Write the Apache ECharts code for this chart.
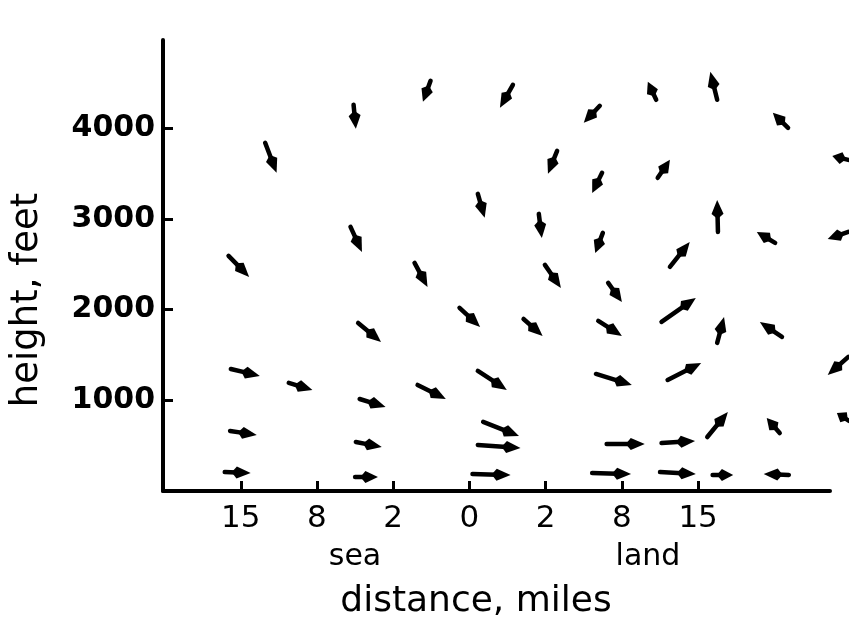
<!DOCTYPE html>
<html>
<head>
<meta charset="utf-8">
<script src="https://cdn.jsdelivr.net/npm/echarts@6/dist/echarts.min.js"></script>
<style>
html,body{margin:0;padding:0;background:#fff;}
#c{width:849px;height:637px;}
</style>
</head>
<body>
<div id="c"></div>
<script>
// x positions are distance-tick indices (0 = "15" sea ... 6 = "15" land); heights in feet
const tickLabels = ['15', '8', '2', '0', '2', '8', '15'];
const heightTicks = [1000, 2000, 3000, 4000];

// tail of each arrow
const tailX = [1.48, 0.32, 1.44, -0.16, 2.49, 3.57, 4.71, 4.15, 4.74, 3.11, 3.91, 4.75, 5.45, 6.25, 7.18, 7.97, 5.47, 6.26, 7.01, 7.97, 5.63, 2.28, 3.99, 4.82, 2.87, 3.71, 4.69, 1.54, 5.52, 6.25, 7.10, -0.13, 0.63, 3.11, 4.66, 5.60, 7.97, 1.56, 2.32, 3.18, 6.12, 7.07, 7.98, -0.14, 1.51, 3.11, 4.80, 5.52, -0.21, 1.50, 3.04, 4.61, 5.50, 6.19, 7.19];
const tailH = [4256, 3837, 2911, 2591, 4520, 4476, 4245, 3749, 3506, 3274, 3054, 2844, 4311, 4311, 4002, 3649, 3451, 2855, 2734, 2855, 2470, 2514, 2492, 2293, 2018, 1896, 1874, 1852, 1863, 1632, 1698, 1345, 1191, 1323, 1290, 1224, 1477, 1014, 1169, 761, 595, 639, 772, 662, 540, 507, 518, 529, 209, 154, 187, 198, 209, 176, 176];
// head (tip) of each arrow
const headX = [1.51, 0.47, 1.59, 0.11, 2.39, 3.40, 4.50, 4.03, 4.61, 3.20, 3.95, 4.65, 5.34, 6.16, 6.98, 7.76, 5.63, 6.25, 6.77, 7.70, 5.89, 2.45, 4.20, 5.00, 3.14, 3.96, 5.00, 1.84, 5.97, 6.34, 6.81, 0.25, 0.94, 3.49, 5.13, 6.04, 7.70, 1.90, 2.69, 3.65, 6.39, 6.90, 7.82, 0.21, 1.85, 3.67, 5.30, 5.96, 0.13, 1.80, 3.54, 5.12, 5.97, 6.46, 6.86];
const headH = [3991, 3506, 2635, 2359, 4289, 4223, 4057, 3495, 3285, 3010, 2789, 2624, 4509, 4619, 4167, 3693, 3649, 3208, 2855, 2778, 2745, 2249, 2238, 2084, 1808, 1709, 1709, 1643, 2128, 1918, 1863, 1268, 1114, 1114, 1169, 1411, 1279, 926, 1014, 606, 871, 805, 860, 617, 485, 474, 518, 551, 198, 154, 176, 187, 187, 176, 187];

const arrowData = tailX.map((x, i) => [x, tailH[i], headX[i], headH[i]]);

const chart = echarts.init(document.getElementById('c'), null, {renderer: 'canvas'});
const FONT = 'DejaVu Sans';

chart.setOption({
  backgroundColor: '#fff',
  animation: false,
  grid: {left: 163, right: 19, top: 40, bottom: 146, containLabel: false},
  xAxis: {
    type: 'value', min: -1.02, max: 7.73,
    axisLine: {show: true, onZero: false, lineStyle: {color: '#000', width: 4}},
    axisTick: {show: true, inside: true, length: 10, lineStyle: {color: '#000', width: 3}, customValues: [0, 1, 2, 3, 4, 5, 6]},
    axisLabel: {
      show: true, margin: 12, color: '#000', fontFamily: FONT, fontSize: 31,
      customValues: [0, 1, 2, 3, 4, 5, 6],
      formatter: v => tickLabels[Math.round(v)] || ''
    },
    splitLine: {show: false}
  },
  yAxis: {
    type: 'value', min: 0, max: 4970,
    axisLine: {show: true, onZero: false, lineStyle: {color: '#000', width: 4}},
    axisTick: {show: true, inside: true, length: 10, lineStyle: {color: '#000', width: 3}, customValues: heightTicks},
    axisLabel: {
      show: true, margin: 8, color: '#000', fontFamily: FONT, fontSize: 30, fontWeight: 'bold',
      customValues: heightTicks,
      formatter: v => String(Math.round(v))
    },
    splitLine: {show: false}
  },
  graphic: [
    {type: 'text', style: {text: 'sea', font: '30px "DejaVu Sans"', fill: '#000', textAlign: 'center', textVerticalAlign: 'middle'}, x: 355, y: 557},
    {type: 'text', style: {text: 'land', font: '30px "DejaVu Sans"', fill: '#000', textAlign: 'center', textVerticalAlign: 'middle'}, x: 648, y: 557},
    {type: 'text', style: {text: 'distance, miles', font: '36px "DejaVu Sans"', fill: '#000', textAlign: 'center', textVerticalAlign: 'middle'}, x: 476, y: 602},
    {type: 'text', style: {text: 'height, feet', font: '37px "DejaVu Sans"', fill: '#000', textAlign: 'center', textVerticalAlign: 'middle'}, x: 27, y: 300, rotation: Math.PI / 2}
  ],
  series: [{
    type: 'custom',
    clip: false,
    data: arrowData,
    encode: {x: [0, 2], y: [1, 3]},
    renderItem: function (params, api) {
      const p0 = api.coord([api.value(0), api.value(1)]);
      const p1 = api.coord([api.value(2), api.value(3)]);
      const dx = p1[0] - p0[0], dy = p1[1] - p0[1];
      const len = Math.hypot(dx, dy) || 1;
      const ux = dx / len, uy = dy / len;
      const headLen = Math.min(14, len * 0.55);
      const hw = 6;
      const bx = p1[0] - ux * headLen, by = p1[1] - uy * headLen;
      return {
        type: 'group',
        children: [
          {type: 'line', shape: {x1: p0[0], y1: p0[1], x2: bx, y2: by},
           style: {stroke: '#000', lineWidth: 4.5, lineCap: 'round'}},
          {type: 'polygon', shape: {points: [
             [p1[0], p1[1]],
             [bx - uy * hw, by + ux * hw],
             [bx - ux * 5, by - uy * 5],
             [bx + uy * hw, by - ux * hw]
           ]}, style: {fill: '#000'}}
        ]
      };
    }
  }]
});
</script>
</body>
</html>
